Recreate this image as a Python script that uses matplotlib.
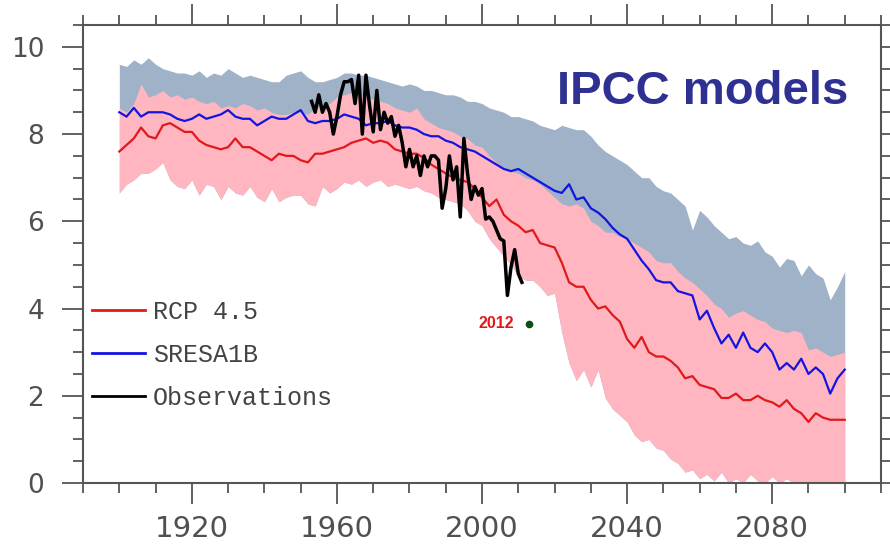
import numpy as np
import matplotlib
matplotlib.use("Agg")
import matplotlib.pyplot as plt
from matplotlib.ticker import MultipleLocator

# model years (every 2 years) and observation years
model_years = np.arange(1900, 2101, 2)
obs_years = np.arange(1953, 2012)

# RCP 4.5 ensemble mean
rcp_mean = [7.6, 7.75, 7.9, 8.15, 7.95, 7.9, 8.2, 8.25, 8.15, 8.05,
            8.05, 7.85, 7.75, 7.7, 7.65, 7.7, 7.9, 7.7, 7.7, 7.6,
            7.5, 7.4, 7.55, 7.5, 7.5, 7.4, 7.35, 7.55, 7.55, 7.6,
            7.65, 7.7, 7.8, 7.85, 7.9, 7.8, 7.85, 7.8, 7.65, 7.6,
            7.55, 7.55, 7.45, 7.3, 7.2, 7.1, 7.0, 6.95, 6.9, 6.75,
            6.55, 6.35, 6.5, 6.15, 6.0, 5.9, 5.75, 5.8, 5.5, 5.45,
            5.4, 5.05, 4.6, 4.5, 4.5, 4.2, 4.0, 4.05, 3.85, 3.7,
            3.3, 3.1, 3.35, 3.0, 2.9, 2.9, 2.8, 2.65, 2.4, 2.45,
            2.25, 2.2, 2.15, 1.95, 1.95, 2.05, 1.9, 1.9, 2.0, 1.9,
            1.85, 1.75, 1.9, 1.7, 1.6, 1.4, 1.6, 1.5, 1.45, 1.45,
            1.45]

# SRES A1B ensemble mean
sres_mean = [8.5, 8.4, 8.6, 8.4, 8.5, 8.5, 8.5, 8.45, 8.35, 8.3,
             8.35, 8.45, 8.35, 8.4, 8.45, 8.55, 8.4, 8.35, 8.35, 8.2,
             8.3, 8.4, 8.35, 8.35, 8.45, 8.55, 8.3, 8.25, 8.3, 8.3,
             8.35, 8.45, 8.4, 8.35, 8.2, 8.25, 8.25, 8.3, 8.2, 8.15,
             8.15, 8.1, 8.0, 7.95, 7.95, 7.85, 7.8, 7.7, 7.65, 7.6,
             7.5, 7.4, 7.3, 7.2, 7.15, 7.2, 7.1, 7.0, 6.9, 6.8,
             6.7, 6.65, 6.85, 6.5, 6.55, 6.3, 6.2, 6.05, 5.85, 5.7,
             5.6, 5.35, 5.1, 4.9, 4.65, 4.6, 4.6, 4.4, 4.35, 4.3,
             3.75, 3.95, 3.55, 3.2, 3.4, 3.1, 3.45, 3.1, 3.0, 3.2,
             3.0, 2.6, 2.75, 2.6, 2.85, 2.5, 2.65, 2.5, 2.05, 2.4,
             2.6]

# RCP 4.5 range
rcp_hi = [8.6, 8.5, 8.7, 9.15, 8.85, 8.9, 9.0, 8.85, 8.9, 8.8,
          8.85, 8.75, 8.7, 8.75, 8.6, 8.65, 8.6, 8.7, 8.65, 8.55,
          8.6, 8.5, 8.45, 8.45, 8.5, 8.5, 8.45, 8.6, 8.6, 8.7,
          8.85, 8.9, 8.95, 8.9, 8.85, 8.8, 8.75, 8.7, 8.6, 8.55,
          8.5, 8.6, 8.35, 8.25, 8.15, 8.1, 8.05, 7.95, 7.9, 7.75,
          7.7, 7.5, 7.35, 7.2, 7.15, 7.1, 7.0, 6.95, 6.85, 6.7,
          6.55, 6.4, 6.35, 6.4, 6.3, 6.0, 5.9, 5.75, 5.75, 5.65,
          5.6, 5.5, 5.4, 5.3, 5.1, 5.05, 5.05, 4.85, 4.7, 4.6,
          4.45, 4.3, 4.1, 4.0, 3.8, 3.9, 3.95, 3.85, 3.75, 3.7,
          3.55, 3.5, 3.45, 3.5, 3.45, 3.05, 3.1, 3.0, 2.9, 2.95,
          3.0]
rcp_lo = [6.65, 6.85, 6.95, 7.1, 7.1, 7.2, 7.35, 6.95, 6.8, 6.75,
          6.95, 6.6, 6.85, 6.8, 6.5, 6.8, 6.65, 6.6, 6.8, 6.55,
          6.45, 6.75, 6.45, 6.55, 6.6, 6.6, 6.4, 6.35, 6.8, 6.65,
          6.75, 6.9, 6.85, 6.95, 6.8, 6.9, 6.95, 6.8, 6.85, 6.8,
          6.75, 6.8, 6.7, 6.65, 6.55, 6.5, 6.45, 6.4, 6.25, 6.0,
          5.9, 5.6, 5.4, 5.2, 5.0, 4.75, 4.65, 4.65, 4.5, 4.3,
          4.35, 3.45, 2.75, 2.35, 2.6, 2.2, 2.6, 1.95, 1.7, 1.55,
          1.4, 1.1, 0.95, 1.0, 0.8, 0.75, 0.55, 0.45, 0.25, 0.3,
          0.1, 0.2, 0.05, 0.25, 0.0, 0.1, 0.0, 0.2, 0.05, 0.0,
          0.15, 0.0, 0.1, 0.0, 0.05, 0.0, 0.0, 0.0, 0.0, 0.0,
          0.0]

# SRES A1B upper bound (lower part is hidden under the pink band)
sres_hi = [9.6, 9.55, 9.7, 9.6, 9.75, 9.6, 9.5, 9.45, 9.4, 9.4,
           9.35, 9.45, 9.3, 9.4, 9.35, 9.5, 9.4, 9.3, 9.35, 9.3,
           9.25, 9.2, 9.2, 9.35, 9.4, 9.45, 9.3, 9.2, 9.2, 9.25,
           9.3, 9.4, 9.4, 9.35, 9.35, 9.3, 9.25, 9.2, 9.15, 9.1,
           9.15, 9.1, 9.0, 9.0, 8.95, 8.9, 8.9, 8.85, 8.75, 8.75,
           8.7, 8.6, 8.55, 8.5, 8.4, 8.4, 8.35, 8.3, 8.2, 8.15,
           8.1, 8.2, 8.15, 8.1, 8.1, 7.95, 7.75, 7.6, 7.5, 7.4,
           7.3, 7.15, 7.0, 7.0, 6.8, 6.7, 6.65, 6.5, 6.35, 5.8,
           6.25, 6.1, 5.9, 5.75, 5.6, 5.65, 5.5, 5.45, 5.55, 5.3,
           5.2, 4.95, 5.15, 5.1, 4.75, 5.0, 4.8, 4.7, 4.2, 4.5,
           4.85]

# observed September extent
obs = [8.75, 8.5, 8.9, 8.5, 8.7, 8.5, 8.0,
       8.4, 8.9, 9.2, 9.2, 9.25, 8.7, 9.35, 8.0, 9.35, 8.65,
       8.05, 9.0, 8.1, 8.5, 8.25, 8.4, 7.95, 8.2, 7.8, 7.25,
       7.65, 7.25, 7.5, 7.05, 7.5, 7.25, 7.5, 7.5, 7.4, 6.3,
       6.75, 7.5, 6.95, 7.25, 6.1, 7.9, 7.1, 6.5, 6.8, 6.6,
       6.75, 6.05, 6.1, 6.0, 5.8, 5.6, 5.55, 4.3, 4.95, 5.35,
       4.8, 4.6]

point_year = 2013
point_value = 3.65

fig = plt.figure(figsize=(8.9, 5.44), dpi=100)
ax = fig.add_axes([0.0933, 0.1121, 0.8966, 0.8419])

ax.fill_between(model_years, rcp_lo, sres_hi, color='#a0b2c8', lw=0)
ax.fill_between(model_years, rcp_lo, rcp_hi, color='#ffb6c1', lw=0)

l_rcp, = ax.plot(model_years, rcp_mean, color='#e01a1a', lw=1.6, label='RCP 4.5')
l_sres, = ax.plot(model_years, sres_mean, color='#1414e0', lw=1.6, label='SRESA1B')
l_obs, = ax.plot(obs_years, obs, color='black', lw=2.5, label='Observations')

ax.plot([point_year], [point_value], 'o', color='#0b4d14', ms=4.5)
ax.annotate('2012', xy=(point_year, point_value), xytext=(-11, 0),
            textcoords='offset points', ha='right', va='center',
            color='#e01a1a', fontsize=11.5, fontweight='bold',
            family='Liberation Sans')

ax.text(0.9586, 0.854, 'IPCC models', transform=ax.transAxes,
        ha='right', va='center', color='#2e3192', fontsize=34,
        fontweight='bold', family='Liberation Sans')

leg = ax.legend(handles=[l_rcp, l_sres, l_obs], loc='upper left',
                bbox_to_anchor=(0.011, 0.40), frameon=False,
                prop={'family': 'Liberation Mono', 'size': 18},
                handlelength=2.12, handletextpad=0.32, labelspacing=0.76,
                borderpad=0, borderaxespad=0)
for t in leg.get_texts():
    t.set_color('#444444')
for h in leg.get_lines():
    h.set_linewidth(2.0)

ax.set_xlim(1890, 2110)
ax.set_ylim(0, 10.5)
ax.xaxis.set_minor_locator(MultipleLocator(10))
ax.set_xticks([1920, 1960, 2000, 2040, 2080])
ax.yaxis.set_major_locator(MultipleLocator(2))
ax.yaxis.set_minor_locator(MultipleLocator(0.5))

ax.tick_params(which='both', direction='out', top=True, right=True,
               labeltop=False, labelright=False, color='#555555', width=1.3)
ax.tick_params(which='major', length=15)
ax.tick_params(which='minor', length=7)
ax.tick_params(axis='x', labelsize=21, labelcolor='#505050', pad=8)
ax.tick_params(axis='y', labelsize=19, labelcolor='#505050', pad=13)
for s in ax.spines.values():
    s.set_color('#555555')
    s.set_linewidth(1.5)

fig.savefig('out.png', dpi=100)
